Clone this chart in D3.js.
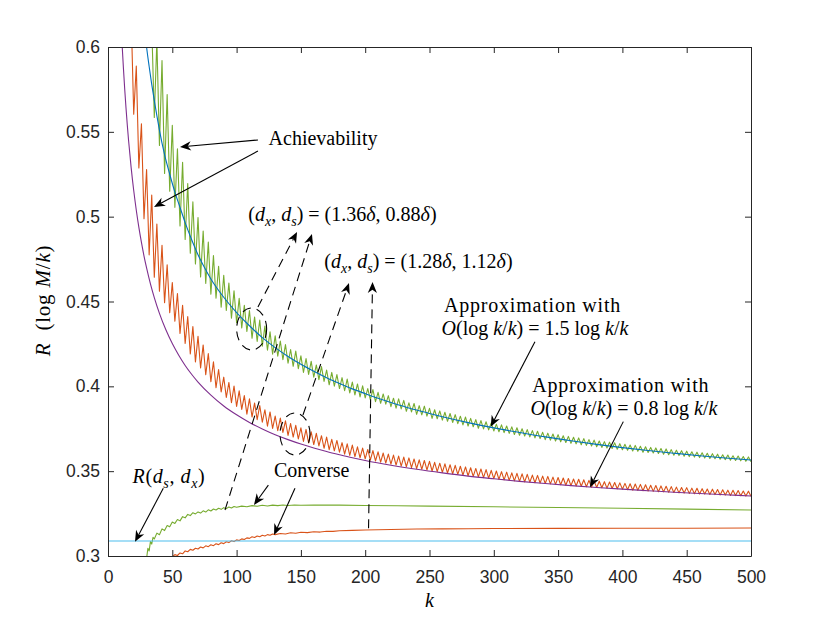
<!DOCTYPE html>
<html lang="en">
<head>
<meta charset="UTF-8">
<title>Rate versus blocklength k</title>
<script src="https://d3js.org/d3.v7.min.js"></script>
<style>
  body { margin: 0; background: #fff; }
  svg { display: block; }
  .tick text { font-family: "Liberation Sans", Arial, sans-serif; font-size: 17.5px; fill: #262626; }
  .tick line, .domain { stroke: #262626; }
  .math { font-family: "Liberation Serif", "Times New Roman", serif; fill: #000; white-space: pre; }
</style>
</head>
<body>
<div id="chart"></div>
<script>
// ---- data ----
const xTicks = [0, 50, 100, 150, 200, 250, 300, 350, 400, 450, 500];
const yTicks = [0.3, 0.35, 0.4, 0.45, 0.5, 0.55, 0.6];

// achievability, (dx, ds) = (1.36d, 0.88d) -- green, one point every 2 in k
const greenAchK = d3.range(34, 501, 2);
const greenAchR = [
  0.613, 0.5585, 0.604, 0.542, 0.592, 0.5255, 0.572, 0.515, 0.5538, 0.5055,
  0.540, 0.4945, 0.532, 0.4865, 0.5195, 0.4785, 0.5087, 0.4721, 0.4995, 0.4645,
  0.4915, 0.4607, 0.485, 0.4543, 0.4771, 0.4519, 0.4708, 0.4466, 0.4655, 0.4447,
  0.4609, 0.4401, 0.4563, 0.4375,
  0.4519, 0.4344, 0.4478, 0.4323, 0.4447, 0.4283, 0.4409, 0.4265, 0.4391, 0.4237,
  0.4355, 0.4213, 0.4322, 0.419, 0.4298,
  0.4178, 0.4267, 0.4157, 0.4246, 0.4136, 0.4217, 0.4118, 0.4208, 0.4104, 0.418,
  0.4082, 0.4164, 0.407, 0.4147, 0.4054, 0.4126, 0.4039, 0.4116, 0.4029, 0.4096,
  0.4009, 0.4082, 0.4001, 0.4069, 0.3987, 0.4051, 0.3974, 0.4043, 0.3961, 0.4025,
  0.3949, 0.4014, 0.3938, 0.4003, 0.3932,
  0.3987, 0.3921, 0.3981, 0.391, 0.3965, 0.39, 0.3955, 0.3895, 0.3945, 0.388,
  0.393, 0.3871, 0.3926, 0.3867, 0.3917, 0.3853, 0.3903, 0.3849, 0.3899, 0.3835,
  0.3886, 0.3832, 0.3883, 0.3824, 0.387, 0.3811, 0.3862, 0.3809, 0.3855, 0.3801,
  0.3847, 0.3794, 0.384, 0.3787, 0.3833, 0.378, 0.3824, 0.3773, 0.3819, 0.3766,
  0.3811, 0.3762, 0.3804, 0.3753, 0.3798, 0.3749, 0.3791, 0.3743, 0.3785, 0.3737,
  0.3777, 0.3732, 0.3773, 0.3727, 0.3766, 0.3723, 0.3761, 0.3716, 0.3756, 0.3712,
  0.375, 0.3707, 0.3745, 0.3702, 0.3739, 0.3696, 0.3735, 0.3692, 0.3729, 0.3686,
  0.3724, 0.3683, 0.3719, 0.3678, 0.3715, 0.3673, 0.3709, 0.3669, 0.3705, 0.3664,
  0.37, 0.3661, 0.3696, 0.3656, 0.3692, 0.3652, 0.3686, 0.3648, 0.3683, 0.3644,
  0.3678, 0.364, 0.3674, 0.3637, 0.3671, 0.3634, 0.3667, 0.3629, 0.3662, 0.3626,
  0.3658, 0.3623, 0.3654, 0.3619, 0.3652, 0.3617, 0.3647, 0.3612, 0.3644, 0.361,
  0.364, 0.3607, 0.3637, 0.3604, 0.3633, 0.36, 0.3631, 0.3597, 0.3627, 0.3594,
  0.3624, 0.3592, 0.3621, 0.3588, 0.3618, 0.3586, 0.3614, 0.3583, 0.3612, 0.358,
  0.3608, 0.3577, 0.3605, 0.3575, 0.3603, 0.3573, 0.36, 0.357, 0.3597, 0.3568,
  0.3595, 0.3565, 0.3591, 0.3563, 0.3589, 0.3561, 0.3586, 0.3558, 0.3584, 0.3556
];

// achievability, (dx, ds) = (1.28d, 1.12d) -- orange
const orangeAchK = d3.range(18, 501, 2);
const orangeAchR = [
  0.619, 0.5604, 0.5888, 0.5287, 0.5548, 0.4988, 0.5278, 0.4775, 0.5127, 0.4643,
  0.4957, 0.456, 0.4831, 0.4493, 0.4717, 0.4434, 0.4612, 0.4384, 0.4547, 0.4311,
  0.4477, 0.4253, 0.4412, 0.4191, 0.4352, 0.4144, 0.4295, 0.4109, 0.4244, 0.4068,
  0.4193, 0.4028, 0.4145, 0.3992, 0.4099, 0.3967, 0.4054, 0.3934, 0.4023, 0.3903,
  0.4002, 0.3882,
  0.3973, 0.3864, 0.3945, 0.3836, 0.3927, 0.3819, 0.3902, 0.3804, 0.3887, 0.3789,
  0.3862, 0.3765, 0.3849, 0.3752, 0.3825, 0.3739, 0.3813, 0.3728, 0.3797, 0.3711,
  0.3781, 0.3701, 0.377, 0.369, 0.3755, 0.3675, 0.3746, 0.3666, 0.3732, 0.3657,
  0.3723, 0.3649, 0.3709, 0.3635, 0.3701, 0.3627, 0.3688, 0.362, 0.3681, 0.3612,
  0.3668, 0.36, 0.3661, 0.3593, 0.3654, 0.3586, 0.3643, 0.3579, 0.3636, 0.3573,
  0.3628, 0.3565, 0.3621, 0.356, 0.3614, 0.3553, 0.3607, 0.3548, 0.3601, 0.3541,
  0.3595, 0.3536, 0.3589, 0.353, 0.3583, 0.3526, 0.3578, 0.3521, 0.3572, 0.3515,
  0.3567, 0.3511, 0.3563, 0.3507, 0.3558, 0.3501, 0.3552, 0.3497, 0.3547, 0.3493,
  0.3543, 0.3489, 0.3538, 0.3484, 0.3534, 0.3481, 0.3529, 0.3477, 0.3525, 0.3473,
  0.352, 0.3469, 0.3516, 0.3466, 0.3513, 0.3462, 0.3509, 0.3459, 0.3505, 0.3456,
  0.3501, 0.3452, 0.3497, 0.3449, 0.3494, 0.3446, 0.349, 0.3443, 0.3487, 0.344,
  0.3484, 0.3437, 0.3481, 0.3435, 0.3477, 0.3432, 0.3475, 0.343, 0.3471, 0.3427,
  0.3469, 0.3425, 0.3465, 0.3422, 0.3463, 0.342, 0.346, 0.3417, 0.3457, 0.3415,
  0.3454, 0.3413, 0.3452, 0.3411, 0.3449, 0.3408, 0.3446, 0.3406, 0.3443, 0.3404,
  0.3441, 0.3402, 0.3438, 0.34, 0.3436, 0.3398, 0.3433, 0.3396, 0.3431, 0.3394,
  0.3428, 0.3391, 0.3426, 0.3388, 0.3424, 0.3387, 0.3422, 0.3385, 0.342, 0.3383,
  0.3417, 0.3381, 0.3415, 0.3379, 0.3413, 0.3378, 0.3411, 0.3376, 0.3409, 0.3374,
  0.3406, 0.3372, 0.3404, 0.3371, 0.3403, 0.3369, 0.34, 0.3367, 0.3399, 0.3366,
  0.3397, 0.3365, 0.3395, 0.3363, 0.3394, 0.3362, 0.3392, 0.336, 0.339, 0.3359,
  0.3388, 0.3357, 0.3387, 0.3356, 0.3386, 0.3355, 0.3383, 0.3353, 0.3382, 0.3352
];

// approximation with O(log k/k) = 1.5 log k/k -- blue
const blueK = [29, 30, 32, 34, 36, 38, 40, 44, 48, 52, 56, 60, 65, 70, 75, 80,
  90, 100, 110, 120, 130, 140, 150, 160, 170, 180, 190, 200, 210, 220, 230, 240,
  250, 260, 270, 280, 290, 300, 320, 340, 360, 380, 400, 420, 440, 460, 480, 500];
const blueR = [0.607, 0.600, 0.5885, 0.578, 0.5685, 0.5595, 0.551, 0.5365, 0.525,
  0.5145, 0.5055, 0.4965, 0.4865, 0.4775, 0.470, 0.4633,
  0.4525, 0.4435, 0.4357, 0.4287, 0.4228, 0.4176, 0.413, 0.4089, 0.4051, 0.4017,
  0.3985, 0.3957, 0.393, 0.3905, 0.3882, 0.386, 0.384, 0.3821, 0.3803, 0.3786,
  0.377, 0.3755, 0.3728, 0.3702, 0.3679, 0.3658, 0.3639, 0.3622, 0.3606, 0.3591,
  0.3578, 0.3566];

// approximation with O(log k/k) = 0.8 log k/k -- purple
const purpleK = [10.5, 11, 12, 13, 14, 15, 16, 18, 20, 22, 24, 26, 28, 30, 33, 36,
  40, 45, 50, 55, 60, 65, 70, 80, 90, 100, 110, 120, 130, 140, 150, 160, 170, 180,
  190, 200, 220, 240, 260, 280, 300, 320, 340, 360, 380, 400, 420, 440, 460, 480, 500];
const purpleR = [0.608, 0.601, 0.5874, 0.5751, 0.564, 0.554, 0.5449, 0.5289, 0.5154,
  0.5038, 0.4937, 0.4848, 0.4768, 0.4698, 0.4604, 0.4523, 0.443, 0.4333, 0.4252,
  0.4183, 0.4123, 0.4071, 0.4025, 0.3948, 0.3884, 0.3832, 0.3787, 0.3749, 0.3715,
  0.3686, 0.366, 0.3637, 0.3616, 0.3597, 0.3579, 0.3563, 0.3535, 0.3511, 0.349,
  0.3471, 0.3455, 0.344, 0.3427, 0.3415, 0.3404, 0.3394, 0.3385, 0.3376, 0.3368,
  0.3361, 0.3354];

// converse bounds
const greenConvK = [30, 31, 32, 33, 34, 35, 36, 38, 40, 42, 44, 46, 48, 50, 52, 54,
  56, 58, 60, 62, 64, 66, 68, 70, 72, 74, 76, 78, 80, 82, 84, 86, 88, 90, 92, 94,
  96, 98, 100, 104, 108, 112, 116, 120, 124, 128, 132, 136, 140, 145, 150, 160,
  170, 180, 200, 225, 250, 300, 350, 400, 450, 500];
const greenConvR = [0.2985, 0.3045, 0.3030, 0.3085, 0.3070, 0.3110, 0.3100,
  0.3135, 0.3125, 0.3160, 0.3150, 0.3180, 0.3172, 0.3200, 0.3192, 0.3215, 0.3207,
  0.3232, 0.3225, 0.3245, 0.3238, 0.3255, 0.3248, 0.3260, 0.3253, 0.3266, 0.3259,
  0.3272, 0.3265, 0.3277, 0.3271, 0.3281, 0.3275, 0.3285, 0.3279, 0.3289, 0.3283,
  0.3292, 0.3287, 0.3294, 0.3290, 0.3297, 0.3293, 0.3299, 0.3295, 0.3300, 0.3297,
  0.3301, 0.3298, 0.3301, 0.3299, 0.3301, 0.3300, 0.3300, 0.3298, 0.3296, 0.3294,
  0.3290, 0.3286, 0.3281, 0.3276, 0.3271];

const orangeConvK = [50, 52, 54, 56, 58, 60, 62, 64, 66, 68, 70, 72, 74, 76, 78,
  80, 82, 84, 86, 88, 90, 92, 94, 96, 98, 100, 102, 104, 106, 108, 110, 112, 114,
  116, 118, 120, 122, 124, 126, 128, 130, 134, 138, 142, 146, 150, 155, 160, 165,
  170, 175, 180, 190, 200, 220, 240, 260, 280, 300, 350, 400, 450, 500];
const orangeConvR = [0.2995, 0.3008, 0.3003, 0.3018, 0.3013, 0.3030, 0.3025,
  0.3039, 0.3034, 0.3046, 0.3041, 0.3053, 0.3048, 0.3060, 0.3055, 0.3066, 0.3061,
  0.3072, 0.3067, 0.3078, 0.3073, 0.3084, 0.3079, 0.3090, 0.3085, 0.3095, 0.3091,
  0.3101, 0.3097, 0.3107, 0.3104, 0.3113, 0.3109, 0.3118, 0.3114, 0.3122, 0.3118,
  0.3126, 0.3122, 0.3130, 0.3126, 0.3133, 0.3130, 0.3137, 0.3134, 0.3140, 0.3138,
  0.3143, 0.3141, 0.3146, 0.3145, 0.3149, 0.3151, 0.3153, 0.3156, 0.3159, 0.3160,
  0.3161, 0.3162, 0.3163, 0.3164, 0.3164, 0.3165];

// R(ds, dx)
const rateK = [0, 500];
const rateR = [0.3088, 0.3088];

// ---- layout ----
const W = 830, H = 625;
const margin = { top: 47, right: 79, bottom: 69, left: 108 };
const width = W - margin.left - margin.right;
const height = H - margin.top - margin.bottom;

const svg = d3.select("#chart").append("svg")
  .attr("width", W).attr("height", H);

const g = svg.append("g")
  .attr("transform", `translate(${margin.left},${margin.top})`);

const x = d3.scaleLinear().domain([0, 500]).range([0, width]);
const y = d3.scaleLinear().domain([0.3, 0.6]).range([height, 0]);

svg.append("defs").append("clipPath").attr("id", "plot-clip")
  .append("rect").attr("width", width).attr("height", height);

const series = [
  { k: greenAchK, r: greenAchR, color: "#77AC30", curve: d3.curveLinear },
  { k: orangeAchK, r: orangeAchR, color: "#D95319", curve: d3.curveLinear },
  { k: blueK, r: blueR, color: "#0072BD", curve: d3.curveMonotoneX },
  { k: purpleK, r: purpleR, color: "#7E2F8E", curve: d3.curveMonotoneX },
  { k: greenConvK, r: greenConvR, color: "#77AC30", curve: d3.curveLinear },
  { k: orangeConvK, r: orangeConvR, color: "#D95319", curve: d3.curveLinear },
  { k: rateK, r: rateR, color: "#4DBEEE", curve: d3.curveLinear }
];

const lines = g.append("g").attr("clip-path", "url(#plot-clip)");
series.forEach(s => {
  if (s.k.length !== s.r.length) console.error("length mismatch", s.color, s.k.length, s.r.length);
  const pts = s.k.map((k, i) => [k, s.r[i]]);
  const line = d3.line().x(d => x(d[0])).y(d => y(d[1])).curve(s.curve);
  lines.append("path")
    .attr("d", line(pts))
    .attr("fill", "none")
    .attr("stroke", s.color)
    .attr("stroke-width", 1.1)
    .attr("stroke-linejoin", "round");
});

// ---- axes (box with inward ticks on all four sides) ----
const fmtY = d => String(+d.toFixed(2));
g.append("g").attr("transform", `translate(0,${height})`)
  .call(d3.axisBottom(x).tickValues(xTicks).tickSize(-6).tickSizeOuter(0).tickPadding(15));
g.append("g")
  .call(d3.axisLeft(y).tickValues(yTicks).tickFormat(fmtY).tickSize(-6).tickSizeOuter(0).tickPadding(8));
g.append("g")
  .call(d3.axisTop(x).tickValues(xTicks).tickFormat("").tickSize(-6).tickSizeOuter(0));
g.append("g").attr("transform", `translate(${width},0)`)
  .call(d3.axisRight(y).tickValues(yTicks).tickFormat("").tickSize(-6).tickSizeOuter(0));
g.selectAll(".domain").attr("stroke-width", 1);

// ---- text helpers ----
function mathText(parent, px, py, parts, size, anchor, spacing) {
  const t = parent.append("text").attr("class", "math")
    .attr("x", px).attr("y", py)
    .attr("text-anchor", anchor || "middle")
    .style("font-size", size + "px");
  if (spacing) t.style("letter-spacing", spacing + "px");
  let shift = 0;
  parts.forEach(([s, kind]) => {
    const sp = t.append("tspan").text(s);
    const want = kind === "sub" ? size * 0.24 : 0;
    if (want !== shift) { sp.attr("dy", want - shift); shift = want; }
    if (kind === "i" || kind === "sub") sp.style("font-style", "italic");
    if (kind === "sub") sp.style("font-size", (size * 0.7) + "px");
  });
  return t;
}

function arrow(parent, from, to, dashed) {
  const x0 = x(from[0]), y0 = y(from[1]), x1 = x(to[0]), y1 = y(to[1]);
  const a = Math.atan2(y1 - y0, x1 - x0);
  const L = 11, hw = 4.6;
  const c = Math.cos(a), s = Math.sin(a);
  parent.append("line")
    .attr("x1", x0).attr("y1", y0)
    .attr("x2", x1 - c * L * 0.7).attr("y2", y1 - s * L * 0.7)
    .attr("stroke", "#000").attr("stroke-width", 1.1)
    .attr("stroke-dasharray", dashed ? "9,6" : null);
  const head = [[0, 0], [-L, -hw], [-L * 0.7, 0], [-L, hw]]
    .map(([u, v]) => [x1 + u * c - v * s, y1 + u * s + v * c]);
  parent.append("polygon").attr("points", head.map(p => p.join(",")).join(" "))
    .attr("fill", "#000");
}

// ---- annotations (positions in data units) ----
const ann = g.append("g");
const fs = 20;

mathText(ann, x(167.2), y(0.5422), [["Achievability", "r"]], fs);
arrow(ann, [116.6, 0.5452], [56.0, 0.5411]);
arrow(ann, [116.6, 0.5387], [35.8, 0.5057]);

mathText(ann, x(182.3), y(0.4974), [["(", "r"], ["d", "i"], ["x", "sub"], [", ", "r"],
  ["d", "i"], ["s", "sub"], [") = (1.36", "r"], ["δ", "i"], [", 0.88", "r"], ["δ", "i"], [")", "r"]], fs);
mathText(ann, x(241.4), y(0.4697), [["(", "r"], ["d", "i"], ["x", "sub"], [", ", "r"],
  ["d", "i"], ["s", "sub"], [") = (1.28", "r"], ["δ", "i"], [", 1.12", "r"], ["δ", "i"], [")", "r"]], fs);

const ellipses = [[111.7, 0.4338], [145.4, 0.3719]];
ellipses.forEach(([k, r]) => {
  ann.append("ellipse").attr("cx", x(k)).attr("cy", y(r)).attr("rx", 15).attr("ry", 21)
    .attr("fill", "none").attr("stroke", "#000").attr("stroke-width", 1.1)
    .attr("stroke-dasharray", "9,6");
});
arrow(ann, [116.6, 0.4468], [147.0, 0.4910], true);
arrow(ann, [91.0, 0.3271], [158.6, 0.4898], true);
arrow(ann, [151.6, 0.3831], [187.4, 0.4609], true);
arrow(ann, [202.6, 0.3163], [205.7, 0.4615], true);

mathText(ann, x(330.1), y(0.4440), [["Approximation with", "r"]], fs, "middle", 0.8);
mathText(ann, x(332.0), y(0.4303), [["O", "i"], ["(log ", "r"], ["k", "i"], ["/", "r"], ["k", "i"],
  [") = 1.5 log ", "r"], ["k", "i"], ["/", "r"], ["k", "i"]], fs);
arrow(ann, [332.0, 0.4263], [297.6, 0.3762]);

mathText(ann, x(398.7), y(0.3968), [["Approximation with", "r"]], fs, "middle", 0.8);
mathText(ann, x(401.2), y(0.3831), [["O", "i"], ["(log ", "r"], ["k", "i"], ["/", "r"], ["k", "i"],
  [") = 0.8 log ", "r"], ["k", "i"], ["/", "r"], ["k", "i"]], fs);
arrow(ann, [400.7, 0.3792], [374.8, 0.3405]);

mathText(ann, x(47.4), y(0.3430), [["R", "i"], ["(", "r"], ["d", "i"], ["s", "sub"], [", ", "r"],
  ["d", "i"], ["x", "sub"], [")", "r"]], fs, "middle", 0.6);
arrow(ann, [43.0, 0.3399], [21.0, 0.3084]);

mathText(ann, x(158.4), y(0.3466), [["Converse", "r"]], fs);
arrow(ann, [124.7, 0.3418], [113.5, 0.3301]);
arrow(ann, [145.4, 0.3399], [129.1, 0.3124]);

// ---- axis titles ----
mathText(g, width / 2, height + 51, [["k", "i"]], 20);
const yl = g.append("g").attr("transform", `translate(-58,${height / 2 - 1}) rotate(-90)`);
mathText(yl, 0, 0, [["R", "i"], ["  (log ", "r"], ["M", "i"], ["/", "r"], ["k", "i"], [")", "r"]], 21, "middle", 0.8);
</script>
</body>
</html>
